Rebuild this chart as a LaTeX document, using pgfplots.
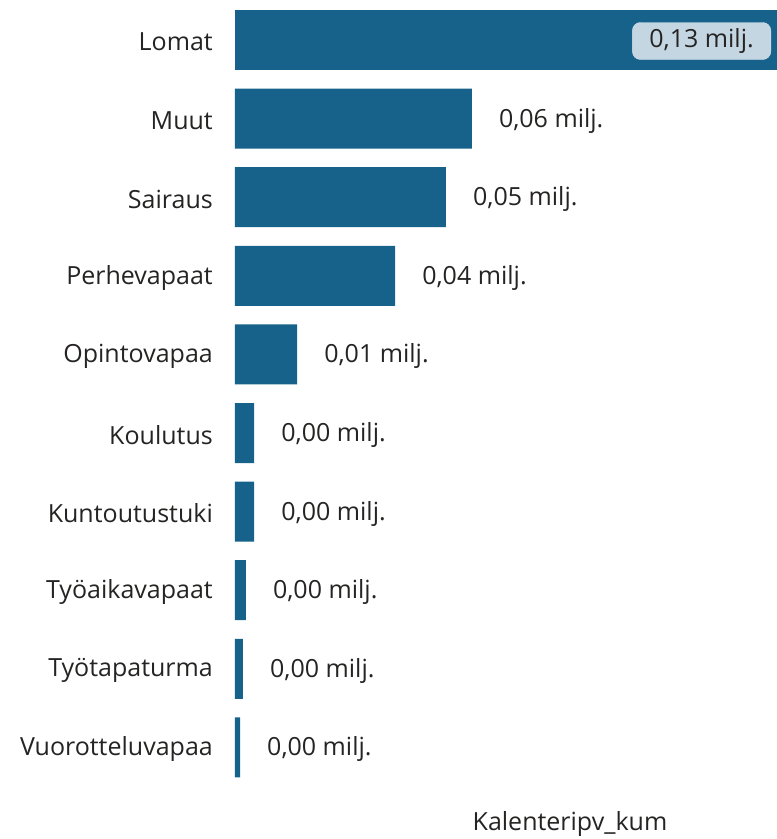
\documentclass[border=0pt]{standalone}
\usepackage{pgfplots}
\pgfplotsset{compat=1.18}
\usepackage{fontspec}
\setmainfont{Open Sans}
\definecolor{barc}{RGB}{22,98,138}
\definecolor{txt}{RGB}{37,36,35}
\definecolor{boxc}{RGB}{196,214,226}
\newcommand{\lf}{\fontsize{25pt}{29pt}\selectfont}
\begin{document}
\begin{tikzpicture}
\useasboundingbox (0,0) rectangle (777pt,-839pt);
\begin{axis}[
  at={(235pt,-0.7pt)}, anchor=north west,
  scale only axis, width=542pt, height=786pt,
  xmin=0, xmax=0.13, ymin=-0.5, ymax=9.5, y dir=reverse,
  axis line style={draw=none},
  xtick=\empty, ytick={0,...,9}, major tick length=0pt,
  yticklabels={Lomat,Muut,Sairaus,Perhevapaat,Opintovapaa,Koulutus,Kuntoutustuki,Työaikavapaat,Työtapaturma,Vuorotteluvapaa},
  yticklabel style={font=\lf, text=txt, inner sep=0pt, yshift=-2pt},
  yticklabel shift=22pt,
  xlabel={Kalenteripv\_kum},
  xlabel style={at={(axis description cs:0.618,0)}, anchor=center, yshift=-37pt, font=\lf, text=txt, inner sep=0pt},
  clip=false,
]
\addplot[xbar, bar width=60pt, bar shift=0pt, fill=barc, draw=none,
  nodes near coords, point meta=explicit symbolic,
  every node near coord/.style={anchor=west, xshift=27pt, yshift=-2pt, inner sep=0pt, font=\lf, text=txt}]
  coordinates {
  (0.0568,1) [0,06 milj.]
  (0.0506,2) [0,05 milj.]
  (0.0384,3) [0,04 milj.]
  (0.0149,4) [0,01 milj.]
  (0.0046,5) [0,00 milj.]
  (0.0046,6) [0,00 milj.]
  (0.0026,7) [0,00 milj.]
  (0.0019,8) [0,00 milj.]
  (0.0012,9) [0,00 milj.]
  };
\addplot[xbar, bar width=60pt, bar shift=0pt, fill=barc, draw=none,
  nodes near coords, point meta=explicit symbolic,
  every node near coord/.style={anchor=east, xshift=-6pt, yshift=-1pt, fill=boxc, draw=boxc!70!white, rounded corners=8pt, inner xsep=17pt, text height=18pt, text depth=5pt, inner ysep=7pt, font=\lf, text=txt}]
  coordinates {(0.13,0) [0,13 milj.]};
\end{axis}
\end{tikzpicture}
\end{document}
